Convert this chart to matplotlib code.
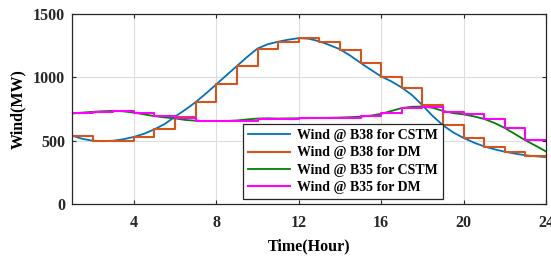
import numpy as np
import matplotlib
matplotlib.use('Agg')
import matplotlib.pyplot as plt

# hours for the DM step series
hours = list(range(1, 25))
b38_dm = [537, 500, 500, 531, 589, 689, 802, 947, 1089, 1228, 1281, 1310,
          1281, 1220, 1115, 1007, 920, 781, 623, 520, 452, 413, 381, 372]
b35_dm = [715, 728, 736, 720, 694, 676, 657, 655, 657, 673, 673, 676,
          678, 680, 692, 716, 760, 770, 727, 708, 668, 598, 503, 503]

# half-hour readings of the smooth CSTM curves
t_half = [1 + 0.5 * i for i in range(47)]
b38_cstm = [540, 515, 500, 496, 500, 512, 530, 555, 590, 632, 690, 745,
            805, 873, 945, 1018, 1090, 1162, 1228, 1262, 1282, 1298, 1310, 1305,
            1285, 1255, 1222, 1172, 1115, 1060, 1008, 968, 920, 860, 780, 695,
            622, 565, 522, 485, 455, 432, 413, 398, 385, 377, 370]
b35_cstm = [715, 722, 728, 733, 736, 732, 722, 708, 694, 684, 676, 664,
            658, 655, 655, 656, 660, 668, 675, 677, 675, 676, 677, 678,
            679, 681, 683, 686, 690, 698, 712, 735, 758, 768, 770, 760,
            735, 718, 708, 692, 672, 640, 600, 552, 503, 460, 415]

plt.rcParams['font.family'] = 'Liberation Serif'
plt.rcParams['font.weight'] = 'bold'

fig = plt.figure(figsize=(5.51, 2.56), dpi=100)
ax = fig.add_axes([0.1307, 0.203, 0.8603, 0.742])

ax.plot(t_half, b38_cstm, color='#0072BD', lw=1.3, label='Wind @ B38 for CSTM')
ax.plot(hours, b38_dm, color='#D95319', lw=1.5, drawstyle='steps-post', label='Wind @ B38 for DM')
ax.plot(t_half, b35_cstm, color='#008000', lw=1.3, label='Wind @ B35 for CSTM')
ax.plot(hours, b35_dm, color='#FF00FF', lw=1.5, drawstyle='steps-post', label='Wind @ B35 for DM')

ax.set_xlim(1, 24)
ax.set_ylim(0, 1500)
ax.set_xticks([4, 8, 12, 16, 20, 24])
ax.set_yticks([0, 500, 1000, 1500])
ax.grid(True, color='#dedede', lw=0.8)
ax.set_axisbelow(True)
ax.tick_params(direction='in', top=True, right=True, labelsize=11.5, colors='#262626', length=3)
ax.tick_params(axis='x', pad=8)
ax.tick_params(axis='y', pad=5)
for s in ax.spines.values():
    s.set_color('#262626')
    s.set_linewidth(0.9)

ax.set_xlabel('Time(Hour)', fontsize=11.5, fontweight='bold', labelpad=5)
ax.set_ylabel('Wind(MW)', fontsize=11.5, fontweight='bold', labelpad=5)

leg = ax.legend(loc='lower left', bbox_to_anchor=(0.361, 0.026), fontsize=10,
                handlelength=3.0, fancybox=False, framealpha=1, edgecolor='#262626',
                borderpad=0.38, labelspacing=0.3, handletextpad=0.5, borderaxespad=0)
leg.get_frame().set_linewidth(0.9)

plt.savefig('out.png', dpi=100)
